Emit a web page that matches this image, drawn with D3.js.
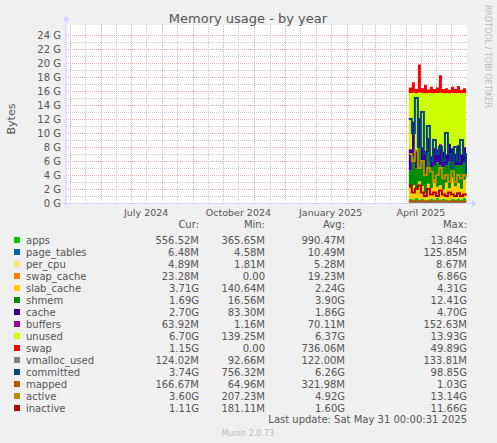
<!DOCTYPE html>
<html><head><meta charset="utf-8">
<script src="https://cdn.jsdelivr.net/npm/d3@7"></script>
<style>body{margin:0;background:#f0f0f0}svg{display:block}text{font-family:"DejaVu Sans",sans-serif}</style>
</head><body><svg id="chart" width="497" height="443"></svg>
<script>
// sample dates (every 3 days), values in GB
let startDay = "2025-04-04";
let apps = [0.6,0.5,0.7,0.5,0.6,0.4,0.5,0.6,0.5,0.7,0.5,0.6,0.5,0.4,0.6,0.5,0.6,0.5,0.7,0.56];
let page_tables = [0.01,0.01,0.01,0.01,0.01,0.01,0.01,0.01,0.01,0.01,0.01,0.01,0.01,0.01,0.01,0.01,0.01,0.01,0.01,0.01];
let per_cpu = [0.005,0.005,0.005,0.005,0.005,0.005,0.005,0.005,0.005,0.005,0.005,0.005,0.005,0.005,0.005,0.005,0.005,0.005,0.005,0.005];
let swap_cache = [0.02,0.05,0.01,0.1,0.02,0.01,0.03,0.02,0.01,0.02,0.06,0.01,0.02,0.01,0.02,0.01,0.03,0.01,0.02,0.02];
let slab_cache = [1.5,2.0,1.2,2.5,1.8,1.0,2.2,1.5,2.8,1.6,2.0,1.3,2.4,1.7,3.0,1.9,2.2,1.5,2.6,3.7];
let shmem = [2.5,4.0,3.0,5.0,3.5,2.5,4.5,3.0,2.0,3.5,2.8,3.2,2.5,3.8,2.2,3.0,2.6,3.4,2.4,1.69];
let cache = [3.0,5.0,2.5,4.0,2.0,3.5,2.0,1.5,2.5,1.8,3.0,2.2,1.5,2.5,2.0,1.6,2.8,1.5,2.2,2.7];
let buffers = [0.07,0.07,0.07,0.07,0.07,0.07,0.07,0.07,0.07,0.07,0.07,0.07,0.07,0.07,0.07,0.07,0.07,0.07,0.07,0.06];
let unused = [8.0,4.1,8.2,3.6,7.7,8.2,6.4,9.0,7.8,8.0,7.3,8.3,8.7,7.2,7.8,8.6,7.4,8.7,7.7,6.9];
let swap = [0.8,1.5,0.6,4.0,0.7,1.2,0.5,0.9,0.6,0.8,2.5,0.6,0.7,0.5,0.9,0.6,1.0,0.5,0.7,1.15];
let vmalloc_used = [0.12,0.12,0.12,0.12,0.12,0.12,0.12,0.12,0.12,0.12,0.12,0.12,0.12,0.12,0.12,0.12,0.12,0.12,0.12,0.12];
let committed = [12,10,15,8,13,7,11,6,9,7,8,6,10,7,5,8,6,9,7,3.74];
let mapped = [0.3,0.2,0.25,0.2,0.3,0.2,0.2,0.25,0.2,0.2,0.3,0.2,0.2,0.2,0.25,0.2,0.2,0.2,0.2,0.17];
let active = [7,6,7.5,5,6,4,5,4.5,3,4,5,3.5,4,3,4.5,3,4,3.5,4,3.6];
let inactive = [2.5,1.5,2,2.5,1.5,1,2,1.2,1.5,1,1.8,1.2,1,1.5,1.2,1,1.4,1,1.2,1.11];

let areaNames = ["apps","page_tables","per_cpu","swap_cache","slab_cache","shmem","cache","buffers","unused","swap"];
let lineNames = ["vmalloc_used","committed","mapped","active","inactive"];
let colors = ["#00cc00","#0066b3","#ffe680","#ff8000","#ffcc00","#008f00","#330099","#990099","#ccff00","#ff0000","#808080","#00487d","#b35a00","#b38f00","#b30000"];
let curCol = ["556.52M","6.48M","4.89M","23.28M","3.71G","1.69G","2.70G","63.92M","6.70G","1.15G","124.02M","3.74G","166.67M","3.60G","1.11G"];
let minCol = ["365.65M","4.58M","1.81M","0.00","140.64M","16.56M","83.30M","1.16M","139.25M","0.00","92.66M","756.32M","64.96M","207.23M","181.11M"];
let avgCol = ["990.47M","10.49M","5.28M","19.23M","2.24G","3.90G","1.86G","70.11M","6.37G","736.06M","122.00M","6.26G","321.98M","4.92G","1.60G"];
let maxCol = ["13.84G","125.85M","8.67M","6.86G","4.31G","12.41G","4.70G","152.63M","13.93G","49.89G","133.81M","98.85G","1.03G","13.14G","11.66G"];
let yTicks = d3.range(0, 25, 2);
let monthTicks = ["2024-07-16","2024-10-16","2025-01-16","2025-04-16"];
let monthLabels = ["July 2024","October 2024","January 2025","April 2025"];

let series = {apps,page_tables,per_cpu,swap_cache,slab_cache,shmem,cache,buffers,unused,swap,vmalloc_used,committed,mapped,active,inactive};
let parse = d3.utcParse("%Y-%m-%d");
let t0 = parse(startDay);
let rows = apps.map((v, i) => {
    let r = {date: d3.utcDay.offset(t0, i * 3)};
    Object.keys(series).forEach(k => r[k] = series[k][i]);
    return r;
});

let svg = d3.select("#chart");
let pLeft = 66, pRight = 467, pTop = 35, pBottom = 203;
let x = d3.scaleUtc().domain([parse("2024-04-27"), parse("2025-06-01")]).range([pLeft, pRight]);
let y = d3.scaleLinear().domain([0, 24]).range([pBottom, pTop]);

svg.append("rect").attr("x", pLeft).attr("y", pTop - 10).attr("width", pRight - pLeft).attr("height", pBottom - pTop + 10).attr("fill", "#fff");

// grid
let g = svg.append("g");
d3.range(1, 25).forEach(v => {
    g.append("line").attr("x1", pLeft).attr("x2", pRight).attr("y1", y(v) + 0.5).attr("y2", y(v) + 0.5)
        .attr("stroke", v % 2 ? "#ccc" : "#e8b0b0").attr("stroke-dasharray", "1,1").attr("stroke-width", 1);
});
d3.utcMonth.range(x.domain()[0], x.domain()[1]).forEach(d => {
    let mid = Math.round(x(d3.utcDay.offset(d, 15))) + 0.5;
    if (mid < pRight) g.append("line").attr("x1", mid).attr("x2", mid).attr("y1", pTop - 10).attr("y2", pBottom)
        .attr("stroke", "#ccc").attr("stroke-dasharray", "1,1");
    g.append("line").attr("x1", Math.round(x(d)) + 0.5).attr("x2", Math.round(x(d)) + 0.5).attr("y1", pTop - 10).attr("y2", pBottom + 2)
        .attr("stroke", "#e8b0b0").attr("stroke-dasharray", "1,1");
});

// stacked areas
let stack = d3.stack().keys(areaNames)(rows);
let area = d3.area().x(d => x(d.data.date)).y0(d => y(d[0])).y1(d => y(d[1])).curve(d3.curveStepAfter);
stack.forEach((s, i) => {
    svg.append("path").datum(s).attr("d", area).attr("fill", colors[i]);
});
lineNames.forEach((n, j) => {
    let line = d3.line().x(d => x(d.date)).y(d => y(d[n])).curve(d3.curveStepAfter);
    svg.append("path").datum(rows).attr("d", line).attr("fill", "none")
        .attr("stroke", colors[areaNames.length + j]).attr("stroke-width", 2);
});

// axes
svg.append("line").attr("x1", pLeft).attr("x2", pLeft).attr("y1", pTop - 14).attr("y2", pBottom + 3).attr("stroke", "#ccd4ff");
svg.append("line").attr("x1", pLeft - 3).attr("x2", pRight + 5).attr("y1", pBottom + 0.5).attr("y2", pBottom + 0.5).attr("stroke", "#ccd4ff");
svg.append("path").attr("d", `M${pLeft - 3},${pTop - 14}L${pLeft + 3},${pTop - 14}L${pLeft},${pTop - 20}Z`).attr("fill", "#ccd4ff");
svg.append("path").attr("d", `M${pRight + 5},${pBottom - 3}L${pRight + 5},${pBottom + 4}L${pRight + 10},${pBottom + 0.5}Z`).attr("fill", "#ccd4ff");
yTicks.forEach(v => {
    svg.append("text").attr("x", pLeft - 5).attr("y", y(v) + 4).attr("text-anchor", "end")
        .attr("font-size", 10).attr("fill", "#555").text(v + " G");
});
monthTicks.forEach((m, i) => {
    svg.append("text").attr("x", x(parse(m))).attr("y", pBottom + 13).attr("text-anchor", "middle")
        .attr("font-size", 9.5).attr("fill", "#555").text(monthLabels[i]);
});
svg.append("text").attr("x", 248).attr("y", 23).attr("text-anchor", "middle").attr("font-size", 13).attr("fill", "#555").text("Memory usage - by year");
svg.append("text").attr("transform", "translate(15,119) rotate(-90)").attr("text-anchor", "middle").attr("font-size", 11).attr("fill", "#555").text("Bytes");
svg.append("text").attr("transform", "translate(485,5) rotate(90)").attr("font-size", 8).attr("fill", "#bbb").text("RRDTOOL / TOBI OETIKER");

// legend
let mono = "DejaVu Sans Mono, monospace";
let hy = 228;
[["Cur:", 199], ["Min:", 265], ["Avg:", 345], ["Max:", 467]].forEach(([t, cx]) => {
    svg.append("text").attr("x", cx).attr("y", hy).attr("text-anchor", "end").attr("font-family", mono).attr("font-size", 10).attr("fill", "#555").text(t);
});
areaNames.concat(lineNames).forEach((n, i) => {
    let ly = 244 + i * 12;
    svg.append("rect").attr("x", 14).attr("y", ly - 7).attr("width", 6).attr("height", 6).attr("fill", colors[i]);
    svg.append("text").attr("x", 26).attr("y", ly).attr("font-family", mono).attr("font-size", 10).attr("fill", "#555").text(n);
    [[curCol, 199], [minCol, 265], [avgCol, 345], [maxCol, 467]].forEach(([arr, cx]) => {
        svg.append("text").attr("x", cx).attr("y", ly).attr("text-anchor", "end").attr("font-family", mono).attr("font-size", 10).attr("fill", "#555").text(arr[i]);
    });
});
svg.append("text").attr("x", 467).attr("y", 423).attr("text-anchor", "end").attr("font-family", mono).attr("font-size", 10).attr("fill", "#555").text("Last update: Sat May 31 00:00:31 2025");
svg.append("text").attr("x", 248).attr("y", 436).attr("text-anchor", "middle").attr("font-size", 8).attr("fill", "#bbb").text("Munin 2.0.73");
</script></body></html>
